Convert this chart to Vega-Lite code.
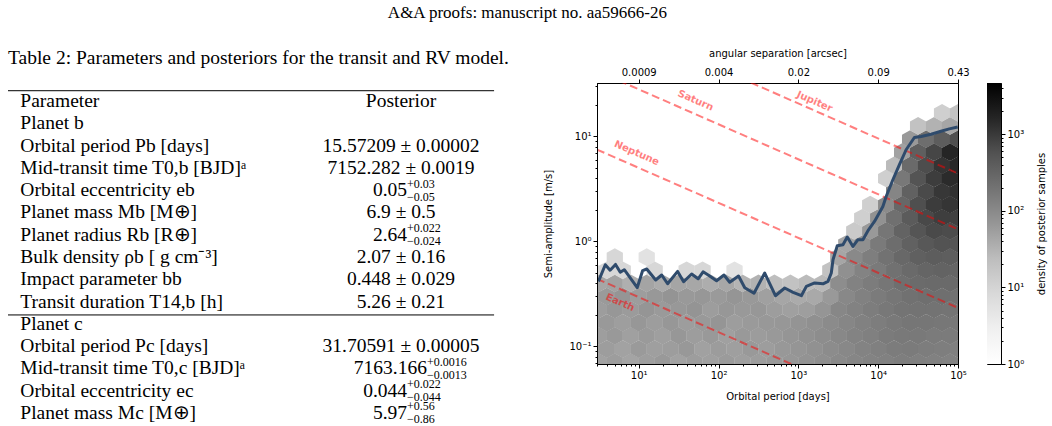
{
"$schema": "https://vega.github.io/schema/vega-lite/v6.json",
"padding": {"left": 7, "top": 3, "right": 0, "bottom": 0},
"background": "white",
"title": {"text": "A&A proofs: manuscript no. aa59666-26", "font": "Liberation Serif", "fontSize": 17, "fontWeight": "normal", "color": "#000", "anchor": "middle", "offset": 26},
"bounds": "flush",
"spacing": 29,
"hconcat": [
{
  "width": 560, "height": 341,
  "view": {"stroke": null},
  "title": {"text": "Table 2: Parameters and posteriors for the transit and RV model.", "font": "Liberation Serif", "fontSize": 19.5, "fontWeight": "normal", "color": "#000", "anchor": "start", "frame": "group", "offset": 15},
  "data": {"values": [
    {"row": 0, "param": "Parameter", "value": "Posterior"},
    {"row": 1, "param": "Planet b"},
    {"row": 2, "param": "Orbital period Pb [days]", "value": "15.57209 ± 0.00002"},
    {"row": 3, "param": "Mid-transit time T0,b [BJD]ᵃ", "value": "7152.282 ± 0.0019"},
    {"row": 4, "param": "Orbital eccentricity eb", "value": "0.05", "up": "+0.03", "lo": "−0.05"},
    {"row": 5, "param": "Planet mass Mb [M⊕]", "value": "6.9 ± 0.5"},
    {"row": 6, "param": "Planet radius Rb [R⊕]", "value": "2.64", "up": "+0.022", "lo": "−0.024"},
    {"row": 7, "param": "Bulk density ρb [ g cm⁻³]", "value": "2.07 ± 0.16"},
    {"row": 8, "param": "Impact parameter bb", "value": "0.448 ± 0.029"},
    {"row": 9, "param": "Transit duration T14,b [h]", "value": "5.26 ± 0.21"},
    {"row": 10, "param": "Planet c"},
    {"row": 11, "param": "Orbital period Pc [days]", "value": "31.70591 ± 0.00005"},
    {"row": 12, "param": "Mid-transit time T0,c [BJD]ᵃ", "value": "7163.166", "up": "+0.0016", "lo": "−0.0013"},
    {"row": 13, "param": "Orbital eccentricity ec", "value": "0.044", "up": "+0.022", "lo": "−0.044"},
    {"row": 14, "param": "Planet mass Mc [M⊕]", "value": "5.97", "up": "+0.56", "lo": "−0.86"}
  ]},
  "encoding": {"y": {"field": "row", "type": "quantitative", "scale": {"domain": [-0.808, 14.494], "reverse": true, "nice": false, "zero": false}, "axis": null}},
  "layer": [
    {"transform": [{"filter": "datum.row == 0"}], "mark": {"type": "rule", "color": "#000", "strokeWidth": 1},
     "encoding": {"y": {"datum": -0.462, "type": "quantitative"}, "x": {"datum": 0, "type": "quantitative", "scale": {"domain": [0, 1], "nice": false, "zero": false}, "axis": null}, "x2": {"datum": 0.868}}},
    {"transform": [{"filter": "datum.row == 10"}], "mark": {"type": "rule", "color": "#000", "strokeWidth": 1},
     "encoding": {"y": {"datum": 9.6, "type": "quantitative"}, "x": {"datum": 0, "type": "quantitative"}, "x2": {"datum": 0.868}}},
    {"mark": {"type": "text", "align": "left", "baseline": "middle", "font": "Liberation Serif", "fontSize": 19.5, "color": "#000", "clip": true},
     "encoding": {"x": {"datum": 0.022, "type": "quantitative"}, "text": {"field": "param"}}},
    {"transform": [{"filter": "datum.value && !datum.up"}], "mark": {"type": "text", "align": "center", "baseline": "middle", "font": "Liberation Serif", "fontSize": 19.5, "color": "#000", "clip": true},
     "encoding": {"x": {"datum": 0.7018, "type": "quantitative"}, "text": {"field": "value"}}},
    {"transform": [{"filter": "datum.up && datum.row != 12"}], "mark": {"type": "text", "align": "right", "baseline": "middle", "font": "Liberation Serif", "fontSize": 19.5, "color": "#000", "clip": true},
     "encoding": {"x": {"datum": 0.7125, "type": "quantitative"}, "text": {"field": "value"}}},
    {"transform": [{"filter": "datum.up && datum.row != 12"}], "mark": {"type": "text", "align": "left", "baseline": "middle", "font": "Liberation Serif", "fontSize": 12, "dy": -6.5, "color": "#000", "clip": true},
     "encoding": {"x": {"datum": 0.7125, "type": "quantitative"}, "text": {"field": "up"}}},
    {"transform": [{"filter": "datum.up && datum.row != 12"}], "mark": {"type": "text", "align": "left", "baseline": "middle", "font": "Liberation Serif", "fontSize": 12, "dy": 6.5, "color": "#000", "clip": true},
     "encoding": {"x": {"datum": 0.7125, "type": "quantitative"}, "text": {"field": "lo"}}},
    {"transform": [{"filter": "datum.row == 12"}], "mark": {"type": "text", "align": "right", "baseline": "middle", "font": "Liberation Serif", "fontSize": 19.5, "color": "#000", "clip": true},
     "encoding": {"x": {"datum": 0.748, "type": "quantitative"}, "text": {"field": "value"}}},
    {"transform": [{"filter": "datum.row == 12"}], "mark": {"type": "text", "align": "left", "baseline": "middle", "font": "Liberation Serif", "fontSize": 12, "dy": -6.5, "color": "#000", "clip": true},
     "encoding": {"x": {"datum": 0.748, "type": "quantitative"}, "text": {"field": "up"}}},
    {"transform": [{"filter": "datum.row == 12"}], "mark": {"type": "text", "align": "left", "baseline": "middle", "font": "Liberation Serif", "fontSize": 12, "dy": 6.5, "color": "#000", "clip": true},
     "encoding": {"x": {"datum": 0.748, "type": "quantitative"}, "text": {"field": "lo"}}}
  ]
},
{
  "width": 361, "height": 281,
  "encoding": {
    "x": {"field": "p", "type": "quantitative", "scale": {"type": "log", "domain": [3, 100000], "nice": false}, "axis": null},
    "y": {"field": "k", "type": "quantitative", "scale": {"type": "log", "domain": [0.068, 32.3], "nice": false},
          "axis": {"orient": "left", "zindex": 1, "title": "Semi-amplitude [m/s]", "values": [0.07,0.08,0.09,0.1,0.2,0.3,0.4,0.5,0.6,0.7,0.8,0.9,1,2,3,4,5,6,7,8,9,10,20,30],
                   "labelExpr": "datum.value == 0.1 ? '10⁻¹' : datum.value == 1 ? '10⁰' : datum.value == 10 ? '10¹' : ''",
                   "tickSize": {"condition": {"test": "datum.value == 0.1 || datum.value == 1 || datum.value == 10", "value": 4}, "value": 2},
                   "labelPadding": 2, "titlePadding": 15}}
  },
  "layer": [
    {
      "data": {"values": [
        {"p":3.162,"k":0.0708,"n":24},{"p":5.012,"k":0.0708,"n":30},{"p":7.943,"k":0.0708,"n":22},{"p":12.59,"k":0.0708,"n":28},{"p":19.95,"k":0.0708,"n":34},{"p":31.62,"k":0.0708,"n":24},{"p":50.12,"k":0.0708,"n":30},{"p":79.43,"k":0.0708,"n":26},{"p":125.9,"k":0.0708,"n":32},{"p":199.5,"k":0.0708,"n":27},{"p":316.2,"k":0.0708,"n":30},{"p":501.2,"k":0.0708,"n":34},{"p":794.3,"k":0.0708,"n":38},{"p":1259,"k":0.0708,"n":44},{"p":1995,"k":0.0708,"n":52},{"p":3162,"k":0.0708,"n":62},{"p":5012,"k":0.0708,"n":75},{"p":7943,"k":0.0708,"n":85},{"p":12589,"k":0.0708,"n":95},{"p":19953,"k":0.0708,"n":105},{"p":31623,"k":0.0708,"n":100},{"p":50119,"k":0.0708,"n":95},{"p":79433,"k":0.0708,"n":90},
        {"p":2.512,"k":0.0944,"n":26},{"p":3.981,"k":0.0944,"n":30},{"p":6.31,"k":0.0944,"n":24},{"p":10,"k":0.0944,"n":33},{"p":15.85,"k":0.0944,"n":27},{"p":25.12,"k":0.0944,"n":30},{"p":39.81,"k":0.0944,"n":36},{"p":63.1,"k":0.0944,"n":25},{"p":100,"k":0.0944,"n":31},{"p":158.5,"k":0.0944,"n":27},{"p":251.2,"k":0.0944,"n":34},{"p":398.1,"k":0.0944,"n":29},{"p":631,"k":0.0944,"n":36},{"p":1000,"k":0.0944,"n":41},{"p":1585,"k":0.0944,"n":48},{"p":2512,"k":0.0944,"n":58},{"p":3981,"k":0.0944,"n":70},{"p":6310,"k":0.0944,"n":84},{"p":10000,"k":0.0944,"n":100},{"p":15849,"k":0.0944,"n":115},{"p":25119,"k":0.0944,"n":120},{"p":39811,"k":0.0944,"n":112},{"p":63096,"k":0.0944,"n":105},{"p":100000,"k":0.0944,"n":100},
        {"p":3.162,"k":0.1259,"n":28},{"p":5.012,"k":0.1259,"n":35},{"p":7.943,"k":0.1259,"n":26},{"p":12.59,"k":0.1259,"n":33},{"p":19.95,"k":0.1259,"n":27},{"p":31.62,"k":0.1259,"n":38},{"p":50.12,"k":0.1259,"n":29},{"p":79.43,"k":0.1259,"n":34},{"p":125.9,"k":0.1259,"n":26},{"p":199.5,"k":0.1259,"n":35},{"p":316.2,"k":0.1259,"n":31},{"p":501.2,"k":0.1259,"n":34},{"p":794.3,"k":0.1259,"n":40},{"p":1259,"k":0.1259,"n":47},{"p":1995,"k":0.1259,"n":56},{"p":3162,"k":0.1259,"n":70},{"p":5012,"k":0.1259,"n":85},{"p":7943,"k":0.1259,"n":100},{"p":12589,"k":0.1259,"n":120},{"p":19953,"k":0.1259,"n":135},{"p":31623,"k":0.1259,"n":132},{"p":50119,"k":0.1259,"n":125},{"p":79433,"k":0.1259,"n":120},
        {"p":2.512,"k":0.1679,"n":30},{"p":3.981,"k":0.1679,"n":34},{"p":6.31,"k":0.1679,"n":28},{"p":10,"k":0.1679,"n":37},{"p":15.85,"k":0.1679,"n":30},{"p":25.12,"k":0.1679,"n":38},{"p":39.81,"k":0.1679,"n":29},{"p":63.1,"k":0.1679,"n":35},{"p":100,"k":0.1679,"n":40},{"p":158.5,"k":0.1679,"n":30},{"p":251.2,"k":0.1679,"n":33},{"p":398.1,"k":0.1679,"n":36},{"p":631,"k":0.1679,"n":38},{"p":1000,"k":0.1679,"n":43},{"p":1585,"k":0.1679,"n":50},{"p":2512,"k":0.1679,"n":60},{"p":3981,"k":0.1679,"n":76},{"p":6310,"k":0.1679,"n":92},{"p":10000,"k":0.1679,"n":112},{"p":15849,"k":0.1679,"n":135},{"p":25119,"k":0.1679,"n":150},{"p":39811,"k":0.1679,"n":152},{"p":63096,"k":0.1679,"n":148},{"p":100000,"k":0.1679,"n":140},
        {"p":3.162,"k":0.2239,"n":30},{"p":5.012,"k":0.2239,"n":38},{"p":7.943,"k":0.2239,"n":32},{"p":12.59,"k":0.2239,"n":41},{"p":19.95,"k":0.2239,"n":33},{"p":31.62,"k":0.2239,"n":36},{"p":50.12,"k":0.2239,"n":43},{"p":79.43,"k":0.2239,"n":30},{"p":125.9,"k":0.2239,"n":37},{"p":199.5,"k":0.2239,"n":34},{"p":316.2,"k":0.2239,"n":38},{"p":501.2,"k":0.2239,"n":30},{"p":794.3,"k":0.2239,"n":26},{"p":1259,"k":0.2239,"n":28},{"p":1995,"k":0.2239,"n":40},{"p":3162,"k":0.2239,"n":72},{"p":5012,"k":0.2239,"n":90},{"p":7943,"k":0.2239,"n":110},{"p":12589,"k":0.2239,"n":140},{"p":19953,"k":0.2239,"n":165},{"p":31623,"k":0.2239,"n":178},{"p":50119,"k":0.2239,"n":172},{"p":79433,"k":0.2239,"n":165},
        {"p":2.512,"k":0.2985,"n":28},{"p":3.981,"k":0.2985,"n":33},{"p":6.31,"k":0.2985,"n":40},{"p":10,"k":0.2985,"n":30},{"p":15.85,"k":0.2985,"n":36},{"p":25.12,"k":0.2985,"n":42},{"p":39.81,"k":0.2985,"n":34},{"p":63.1,"k":0.2985,"n":38},{"p":100,"k":0.2985,"n":33},{"p":158.5,"k":0.2985,"n":40},{"p":251.2,"k":0.2985,"n":35},{"p":398.1,"k":0.2985,"n":26},{"p":631,"k":0.2985,"n":20},{"p":1000,"k":0.2985,"n":16},{"p":1585,"k":0.2985,"n":18},{"p":2512,"k":0.2985,"n":34},{"p":3981,"k":0.2985,"n":70},{"p":6310,"k":0.2985,"n":95},{"p":10000,"k":0.2985,"n":120},{"p":15849,"k":0.2985,"n":155},{"p":25119,"k":0.2985,"n":190},{"p":39811,"k":0.2985,"n":205},{"p":63096,"k":0.2985,"n":205},{"p":100000,"k":0.2985,"n":195},
        {"p":3.162,"k":0.3981,"n":20},{"p":5.012,"k":0.3981,"n":24},{"p":7.943,"k":0.3981,"n":14},{"p":12.59,"k":0.3981,"n":22},{"p":19.95,"k":0.3981,"n":16},{"p":31.62,"k":0.3981,"n":21},{"p":50.12,"k":0.3981,"n":19},{"p":79.43,"k":0.3981,"n":15},{"p":125.9,"k":0.3981,"n":19},{"p":199.5,"k":0.3981,"n":11},{"p":316.2,"k":0.3981,"n":12},{"p":501.2,"k":0.3981,"n":7},{"p":794.3,"k":0.3981,"n":6},{"p":1259,"k":0.3981,"n":8},{"p":1995,"k":0.3981,"n":9},{"p":3162,"k":0.3981,"n":55},{"p":5012,"k":0.3981,"n":90},{"p":7943,"k":0.3981,"n":115},{"p":12589,"k":0.3981,"n":155},{"p":19953,"k":0.3981,"n":210},{"p":31623,"k":0.3981,"n":245},{"p":50119,"k":0.3981,"n":265},{"p":79433,"k":0.3981,"n":255},
        {"p":2.512,"k":0.5309,"n":2},{"p":3.981,"k":0.5309,"n":2},{"p":6.31,"k":0.5309,"n":2},{"p":15.85,"k":0.5309,"n":2},{"p":39.81,"k":0.5309,"n":2},{"p":63.1,"k":0.5309,"n":2},{"p":158.5,"k":0.5309,"n":1},{"p":2512,"k":0.5309,"n":6},{"p":3981,"k":0.5309,"n":50},{"p":6310,"k":0.5309,"n":85},{"p":10000,"k":0.5309,"n":130},{"p":15849,"k":0.5309,"n":190},{"p":25119,"k":0.5309,"n":265},{"p":39811,"k":0.5309,"n":330},{"p":63096,"k":0.5309,"n":350},{"p":100000,"k":0.5309,"n":330},
        {"p":5.012,"k":0.7079,"n":2},{"p":12.59,"k":0.7079,"n":1},{"p":3162,"k":0.7079,"n":20},{"p":5012,"k":0.7079,"n":65},{"p":7943,"k":0.7079,"n":105},{"p":12589,"k":0.7079,"n":180},{"p":19953,"k":0.7079,"n":280},{"p":31623,"k":0.7079,"n":400},{"p":50119,"k":0.7079,"n":460},{"p":79433,"k":0.7079,"n":440},
        {"p":3981,"k":0.9441,"n":20},{"p":6310,"k":0.9441,"n":50},{"p":10000,"k":0.9441,"n":130},{"p":15849,"k":0.9441,"n":230},{"p":25119,"k":0.9441,"n":380},{"p":39811,"k":0.9441,"n":560},{"p":63096,"k":0.9441,"n":680},{"p":100000,"k":0.9441,"n":620},
        {"p":5012,"k":1.259,"n":4},{"p":7943,"k":1.259,"n":35},{"p":12589,"k":1.259,"n":150},{"p":19953,"k":1.259,"n":350},{"p":31623,"k":1.259,"n":620},{"p":50119,"k":1.259,"n":950},{"p":79433,"k":1.259,"n":900},
        {"p":6310,"k":1.679,"n":3},{"p":10000,"k":1.679,"n":45},{"p":15849,"k":1.679,"n":200},{"p":25119,"k":1.679,"n":500},{"p":39811,"k":1.679,"n":1000},{"p":63096,"k":1.679,"n":1450},{"p":100000,"k":1.679,"n":1350},
        {"p":7943,"k":2.239,"n":3},{"p":12589,"k":2.239,"n":60},{"p":19953,"k":2.239,"n":300},{"p":31623,"k":2.239,"n":800},{"p":50119,"k":2.239,"n":1600},{"p":79433,"k":2.239,"n":2000},
        {"p":15849,"k":2.985,"n":80},{"p":25119,"k":2.985,"n":380},{"p":39811,"k":2.985,"n":950},{"p":63096,"k":2.985,"n":1900},{"p":100000,"k":2.985,"n":2300},
        {"p":12589,"k":3.981,"n":3},{"p":19953,"k":3.981,"n":140},{"p":31623,"k":3.981,"n":650},{"p":50119,"k":3.981,"n":1500},{"p":79433,"k":3.981,"n":2900},
        {"p":15849,"k":5.309,"n":8},{"p":25119,"k":5.309,"n":260},{"p":39811,"k":5.309,"n":850},{"p":63096,"k":5.309,"n":2100},{"p":100000,"k":5.309,"n":3200},
        {"p":19953,"k":7.079,"n":25},{"p":31623,"k":7.079,"n":420},{"p":50119,"k":7.079,"n":1100},{"p":79433,"k":7.079,"n":3600},
        {"p":25119,"k":9.441,"n":35},{"p":39811,"k":9.441,"n":220},{"p":63096,"k":9.441,"n":450},{"p":100000,"k":9.441,"n":800},
        {"p":31623,"k":12.59,"n":6},{"p":50119,"k":12.59,"n":12},{"p":79433,"k":12.59,"n":20},
        {"p":63096,"k":16.79,"n":3},{"p":100000,"k":16.79,"n":6}
      ]},
      "mark": {"type": "point", "shape": "M0,-1.094L1,-0.547L1,0.547L0,1.094L-1,0.547L-1,-0.547Z", "size": 264, "filled": true, "opacity": 1, "strokeWidth": 0, "clip": true},
      "encoding": {
        "x": {"field": "p", "type": "quantitative",
              "axis": {"orient": "bottom", "title": "Orbital period [days]", "values": [3,4,5,6,7,8,9,10,20,30,40,50,60,70,80,90,100,200,300,400,500,600,700,800,900,1000,2000,3000,4000,5000,6000,7000,8000,9000,10000,20000,30000,40000,50000,60000,70000,80000,90000,100000],
                       "labelExpr": "datum.value == 10 ? '10¹' : datum.value == 100 ? '10²' : datum.value == 1000 ? '10³' : datum.value == 10000 ? '10⁴' : datum.value == 100000 ? '10⁵' : ''",
                       "tickSize": {"condition": {"test": "indexof([10,100,1000,10000,100000], datum.value) >= 0", "value": 4}, "value": 2},
                       "labelPadding": 2, "titlePadding": 11}},
        "color": {"field": "n", "type": "quantitative", "scale": {"type": "log", "domain": [1, 4700], "scheme": "greys"}, "legend": null}
      }
    },
    {
      "data": {"values": [
        {"planet": "Earth", "p": 3, "k": 0.44}, {"planet": "Earth", "p": 100000, "k": 0.01367},
        {"planet": "Neptune", "p": 3, "k": 7.5}, {"planet": "Neptune", "p": 100000, "k": 0.233},
        {"planet": "Saturn", "p": 3, "k": 42}, {"planet": "Saturn", "p": 100000, "k": 1.305},
        {"planet": "Jupiter", "p": 3, "k": 143}, {"planet": "Jupiter", "p": 100000, "k": 4.44}
      ]},
      "mark": {"type": "line", "color": "#ff0000", "opacity": 0.5, "strokeWidth": 2, "strokeDash": [8, 4], "clip": true},
      "encoding": {
        "x": {"field": "p", "type": "quantitative",
              "axis": {"orient": "top", "title": "angular separation [arcsec]", "values": [10, 100, 1000, 10000, 100000],
                       "labelExpr": "datum.value == 10 ? '0.0009' : datum.value == 100 ? '0.004' : datum.value == 1000 ? '0.02' : datum.value == 10000 ? '0.09' : '0.43'",
                       "tickSize": 4, "labelPadding": 2, "titlePadding": 9}},
        "detail": {"field": "planet"}
      }
    },
    {
      "data": {"values": [
        {"name": "Saturn", "p": 51.6, "k": 22.0},
        {"name": "Neptune", "p": 9.44, "k": 6.95},
        {"name": "Jupiter", "p": 1600, "k": 21.5},
        {"name": "Earth", "p": 5.84, "k": 0.262}
      ]},
      "mark": {"type": "text", "font": "DejaVu Sans", "fontSize": 10, "fontWeight": "bold", "color": "#ff0000", "opacity": 0.5, "angle": 23.6, "align": "center", "baseline": "middle"},
      "encoding": {
        "text": {"field": "name"}
      }
    },
    {
      "data": {"values": [
        {"p":3.13,"k":0.416},{"p":3.81,"k":0.60},{"p":4.38,"k":0.532},{"p":5.12,"k":0.604},{"p":5.87,"k":0.509},{"p":6.59,"k":0.538},{"p":9.58,"k":0.364},{"p":11.2,"k":0.528},{"p":12.6,"k":0.546},{"p":16.3,"k":0.429},{"p":19.4,"k":0.479},{"p":23.0,"k":0.395},{"p":30.7,"k":0.518},{"p":36.5,"k":0.413},{"p":46.0,"k":0.49},{"p":55.5,"k":0.441},{"p":64.0,"k":0.514},{"p":75.0,"k":0.477},{"p":94.4,"k":0.422},{"p":117,"k":0.479},{"p":138,"k":0.409},{"p":178,"k":0.468},{"p":213,"k":0.362},{"p":278,"k":0.321},{"p":379,"k":0.50},{"p":516,"k":0.304},{"p":674,"k":0.36},{"p":859,"k":0.327},{"p":1090,"k":0.304},{"p":1259,"k":0.373},{"p":1600,"k":0.402},{"p":2037,"k":0.395},{"p":2350,"k":0.416},{"p":2585,"k":0.50},{"p":2716,"k":0.67},{"p":3073,"k":0.91},{"p":3620,"k":0.93},{"p":4098,"k":1.10},{"p":4830,"k":0.896},{"p":5575,"k":1.04},{"p":6437,"k":1.04},{"p":7568,"k":1.29},{"p":8992,"k":1.55},{"p":11450,"k":2.15},{"p":12590,"k":2.68},{"p":15280,"k":3.87},{"p":18460,"k":5.38},{"p":22390,"k":7.47},{"p":28430,"k":9.78},{"p":34470,"k":10.0},{"p":45960,"k":10.5},{"p":61300,"k":11.2},{"p":77840,"k":11.8},{"p":99100,"k":12.3}
      ]},
      "mark": {"type": "line", "color": "#2f4b6c", "strokeWidth": 3, "strokeJoin": "round", "clip": true},
      "encoding": {}
    }
  ]
},
{
  "width": 14, "height": 281,
  "data": {"values": [{"lo": 1, "hi": 4700}]},
  "mark": {"type": "rect", "color": {"gradient": "linear", "x1": 0, "y1": 1, "x2": 0, "y2": 0, "stops": [
    {"offset": 0, "color": "#ffffff"}, {"offset": 0.125, "color": "#f0f0f0"}, {"offset": 0.25, "color": "#d9d9d9"},
    {"offset": 0.375, "color": "#bdbdbd"}, {"offset": 0.5, "color": "#969696"}, {"offset": 0.625, "color": "#737373"},
    {"offset": 0.75, "color": "#525252"}, {"offset": 0.875, "color": "#252525"}, {"offset": 1, "color": "#000000"}]}},
  "encoding": {
    "x": {"datum": 0, "type": "quantitative", "scale": {"domain": [0, 1], "nice": false, "zero": false}, "axis": null},
    "x2": {"datum": 1},
    "y": {"field": "lo", "type": "quantitative", "scale": {"type": "log", "domain": [1, 4700], "nice": false},
          "axis": {"orient": "right", "title": "density of posterior samples", "titleAngle": -90,
                   "values": [1,2,3,4,5,6,7,8,9,10,20,30,40,50,60,70,80,90,100,200,300,400,500,600,700,800,900,1000,2000,3000,4000],
                   "labelExpr": "datum.value == 1 ? '10⁰' : datum.value == 10 ? '10¹' : datum.value == 100 ? '10²' : datum.value == 1000 ? '10³' : ''",
                   "tickSize": {"condition": {"test": "indexof([1,10,100,1000], datum.value) >= 0", "value": 4}, "value": 2},
                   "labelPadding": 2, "titlePadding": 23}},
    "y2": {"field": "hi"}
  }
}
],
"config": {
  "view": {"stroke": "#000", "strokeWidth": 1},
  "axis": {"labelFont": "DejaVu Sans", "titleFont": "DejaVu Sans", "labelFontSize": 10, "titleFontSize": 10, "titleFontWeight": "normal",
           "labelColor": "#000", "titleColor": "#000", "domainColor": "#000", "tickColor": "#000", "domainWidth": 1, "tickWidth": 1,
           "grid": false, "labelOverlap": false, "labelFlush": false}
}
}
